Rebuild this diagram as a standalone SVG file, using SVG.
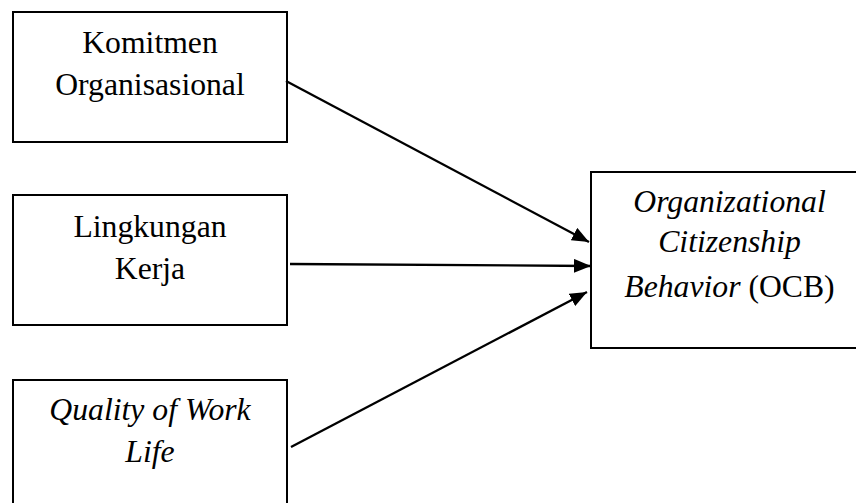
<svg xmlns="http://www.w3.org/2000/svg" width="856" height="503" viewBox="0 0 856 503">
<defs>
<style>
.box{fill:#fff;stroke:#000;stroke-width:2}
.t{font-family:"Liberation Serif","Times New Roman",serif;font-size:31.7px;fill:#000;text-anchor:middle}
.i{font-style:italic}
.c{stroke:#000;stroke-width:2.3;fill:none}
</style>
<marker id="ah" markerUnits="userSpaceOnUse" markerWidth="18" markerHeight="14" viewBox="0 0 18 14" refX="17" refY="7" orient="auto">
<path d="M0,0 L17,7 L0,14 Z" fill="#000"/>
</marker>
</defs>
<rect width="856" height="503" fill="#fff"/>
<g id="n1">
<rect class="box" x="13" y="12" width="274" height="130"/>
<text class="t" x="150" y="53">Komitmen</text>
<text class="t" x="150" y="95">Organisasional</text>
</g>
<g id="n2">
<rect class="box" x="13" y="195" width="274" height="130"/>
<text class="t" x="150" y="237">Lingkungan</text>
<text class="t" x="150" y="279">Kerja</text>
</g>
<g id="n3">
<rect class="box" x="13" y="380" width="274" height="140"/>
<text class="t i" x="150" y="420">Quality of Work</text>
<text class="t i" x="150" y="462">Life</text>
</g>
<g id="n4">
<rect class="box" x="591" y="172" width="277" height="176"/>
<text class="t i" x="729.5" y="212">Organizational</text>
<text class="t i" x="729.5" y="252">Citizenship</text>
<text class="t" x="729.5" y="297"><tspan class="i">Behavior</tspan> (OCB)</text>
</g>
<g id="connectors">
<line class="c" x1="286" y1="81" x2="589" y2="242" marker-end="url(#ah)"/>
<line class="c" x1="290" y1="264" x2="591" y2="266" marker-end="url(#ah)"/>
<line class="c" x1="291" y1="447" x2="587" y2="292" marker-end="url(#ah)"/>
</g>
</svg>
